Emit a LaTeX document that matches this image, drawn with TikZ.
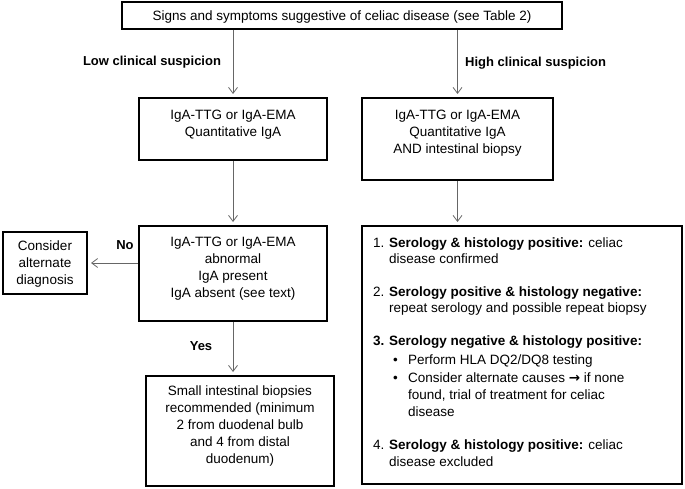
\documentclass[tikz,border=0pt]{standalone}
\usepackage{fontspec}
\setmainfont{Liberation Sans}
\newfontfamily\arrowfont{DejaVu Sans}
\usetikzlibrary{arrows.meta}
\begin{document}
\begin{tikzpicture}[x=1pt,y=-1pt,
  box/.style={draw, line width=2pt, inner sep=0pt},
  txt/.style={font=\fontsize{13.5}{17}\selectfont, inner sep=0pt, align=center, anchor=north},
  rt/.style={font=\fontsize{13.5}{17}\selectfont, inner sep=0pt, anchor=base west},
  lbl/.style={font=\bfseries\fontsize{13}{16}\selectfont, inner sep=0pt},
  arr/.style={draw=black!60, line width=0.8pt, -{Straight Barb[length=6pt,width=9pt]}, shorten >=3pt}]
\useasboundingbox (0,0) rectangle (685,489);
% boxes
\node[box, minimum width=440pt, minimum height=27pt] (top) at (342,15.5) {};
\node[box, minimum width=188pt, minimum height=62pt] (l2) at (233,129) {};
\node[box, minimum width=191pt, minimum height=82pt] (r2) at (457.5,139) {};
\node[box, minimum width=188pt, minimum height=95pt] (b3) at (233,273.5) {};
\node[box, minimum width=84pt, minimum height=62pt] (alt) at (45,263) {};
\node[box, minimum width=188pt, minimum height=110pt] (b4) at (240,431) {};
\node[box, minimum width=320pt, minimum height=258pt] (big) at (522,355) {};
% box texts
\node[txt] (toptxt) at (342,11) {Signs and symptoms suggestive of celiac disease (see Table 2)};
\node[txt] (l2txt) at (233,110) {IgA-TTG or IgA-EMA\\Quantitative IgA};
\node[txt] (r2txt) at (457.5,110) {IgA-TTG or IgA-EMA\\Quantitative IgA\\AND intestinal biopsy};
\node[txt] (b3txt) at (233,237) {IgA-TTG or IgA-EMA\\abnormal\\IgA present\\IgA absent (see text)};
\node[txt] (alttxt) at (45,241) {Consider\\alternate\\diagnosis};
\node[txt, font=\fontsize{13.5}{17}\selectfont] (b4txt) at (240,386) {Small intestinal biopsies\\recommended (minimum\\2 from duodenal bulb\\and 4 from distal\\duodenum)};
% right box list
\node[rt] (n1) at (373,247) {1.};
\node[rt] (t1a) at (389,247) {\textbf{Serology \& histology positive:} celiac};
\node[rt] (t1b) at (389,263) {disease confirmed};
\node[rt] (n2) at (373,296) {2.};
\node[rt] (t2a) at (389,296) {\textbf{Serology positive \& histology negative:}};
\node[rt] (t2b) at (389,312) {repeat serology and possible repeat biopsy};
\node[rt] (n3) at (373,345) {\textbf{3.}};
\node[rt] (t3a) at (389,345) {\textbf{Serology negative \& histology positive:}};
\node[rt] (u1) at (393,364) {•};
\node[rt] (t3b) at (408,364) {Perform HLA DQ2/DQ8 testing};
\node[rt] (u2) at (393,382) {•};
\node[rt] (t3c) at (408,382) {Consider alternate causes {\arrowfont\bfseries →} if none};
\node[rt] (t3d) at (408,399) {found, trial of treatment for celiac};
\node[rt] (t3e) at (408,416) {disease};
\node[rt] (n4) at (373,449) {4.};
\node[rt] (t4a) at (389,449) {\textbf{Serology \& histology positive:} celiac};
\node[rt] (t4b) at (389,466) {disease excluded};
% labels
\node[lbl] (low) at (152,62) {Low clinical suspicion};
\node[lbl, anchor=west] (high) at (465,63) {High clinical suspicion};
\node[lbl] (no) at (125,245) {No};
\node[lbl] (yes) at (201,346) {Yes};
% connectors
\draw[arr] (top.south -| l2.north) -- (l2.north);
\draw[arr] (top.south -| r2.north) -- (r2.north);
\draw[arr] (l2.south) -- (b3.north);
\draw[arr] (alt.east -| b3.west) -- (alt.east);
\draw[arr] (b3.south) -- (b3.south |- b4.north);
\draw[arr] (r2.south) -- (r2.south |- big.north);
\end{tikzpicture}
\end{document}
